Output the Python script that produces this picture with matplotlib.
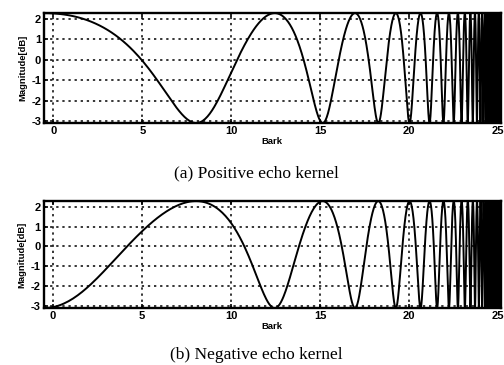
import numpy as np
import matplotlib
matplotlib.use('Agg')
import matplotlib.pyplot as plt

plt.rcParams['axes.unicode_minus'] = False

# echo kernel parameters (peak/trough spacing and levels)
fs = 44100            # sampling rate [Hz]
n_fft = 4096          # FFT length
echo_delay = 24       # samples
echo_gain = 0.3       # +-0.3 -> +2.28 dB / -3.10 dB

pos_kernel = np.r_[1.0, np.zeros(echo_delay - 1), echo_gain]
neg_kernel = np.r_[1.0, np.zeros(echo_delay - 1), -echo_gain]

x_ticks = [0, 5, 10, 15, 20, 25]
y_ticks = [-3, -2, -1, 0, 1, 2]
captions = ['(a) Positive echo kernel', '(b) Negative echo kernel']


def bark(f):
    # Traunmuller approximation
    return 26.81 * f / (1960 + f) - 0.53


def response_db(kernel):
    H = np.fft.fft(kernel, n_fft)
    return 20 * np.log10(np.abs(H))


freqs = np.arange(n_fft) * fs / n_fft
z = bark(freqs)

fig = plt.figure(figsize=(5.04, 3.65), dpi=100)
label_font = ['Liberation Sans Narrow', 'Liberation Sans', 'DejaVu Sans']

ax_pos = [[0.0873, 0.663, 0.906, 0.301],
          [0.0865, 0.156, 0.907, 0.293]]
cap_y = [0.526, 0.027]

for i, kernel in enumerate([pos_kernel, neg_kernel]):
    ax = fig.add_axes(ax_pos[i])
    mag = response_db(kernel)
    ax.plot(z, mag, color='black', lw=1.4)
    ax.set_xlim(z.min(), z.max())
    ax.set_ylim(mag.min(), mag.max())
    ax.set_xticks(x_ticks)
    ax.set_yticks(y_ticks)
    ax.grid(True, color='black', linestyle=(0, (1.5, 2.5)), lw=1.1)
    ax.tick_params(direction='in', length=3, width=1.2, pad=2,
                   top=True, right=True)
    for lab in ax.get_xticklabels() + ax.get_yticklabels():
        lab.set_family(['Liberation Sans', 'DejaVu Sans'])
        lab.set_fontweight('bold')
        lab.set_fontsize(8)
    for sp in ax.spines.values():
        sp.set_linewidth(1.7)
    ax.set_xlabel('Bark', fontsize=6.8, fontweight='bold',
                  family=label_font, labelpad=1)
    ax.set_ylabel('Magnitude[dB]', fontsize=6.8, fontweight='bold',
                  family=label_font, labelpad=3)
    fig.text(0.508, cap_y[i], captions[i], ha='center', va='center',
             fontsize=12.5, family=['Liberation Serif', 'DejaVu Serif'])

fig.savefig('out.png', dpi=100)
